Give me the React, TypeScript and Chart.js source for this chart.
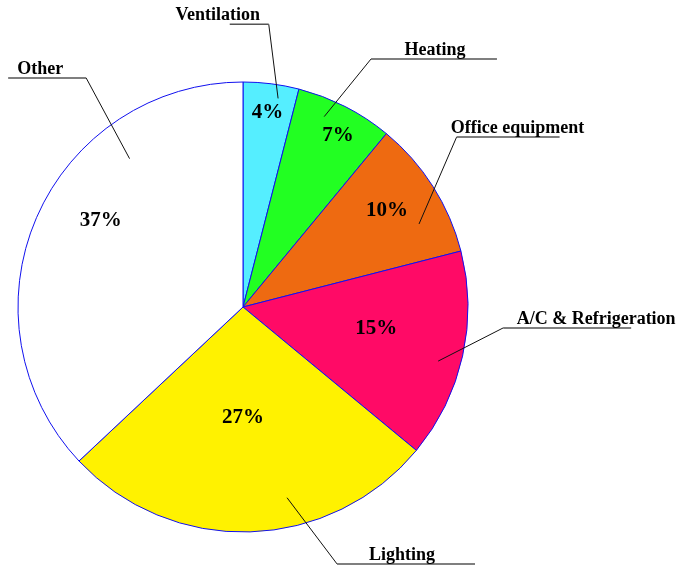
import React, { useEffect, useRef } from "react";
import { Chart, registerables } from "chart.js";

Chart.register(...registerables);

const categories = ["Ventilation", "Heating", "Office equipment", "A/C & Refrigeration", "Lighting", "Other"];
const shares = [4, 7, 10, 15, 27, 37];
const sliceColors = ["#55EEFF", "#22FF22", "#EE6A11", "#FF0A66", "#FFF200", "#FFFFFF"];

// label placement relative to each arc (angle offsets in degrees from slice mid-angle, radii as fraction of outer radius)
const pctPlace = [
  { da: 0, r: 0.87 },
  { da: 2, r: 0.87 },
  { da: -1.4, r: 0.77 },
  { da: -3.6, r: 0.6 },
  { da: 1.8, r: 0.49 },
  { da: 7.9, r: 0.74 },
];
const leaderPlace = [
  { da0: 2.35, r0: 0.94, da1: -2.0, r1: 1.262, ul: -39, tx: -51 },
  { da0: -3.9, r0: 0.92, da1: 0.3, r1: 1.24, ul: 126, tx: 64 },
  { da0: 7.15, r0: 0.865, da1: -6.1, r1: 1.213, ul: 103, tx: 61 },
  { da0: 2.9, r0: 0.9, da1: -8.0, r1: 1.16, ul: 128, tx: 93 },
  { da0: -11.2, r0: 0.87, da1: -18.3, r1: 1.216, ul: 138, tx: 65 },
  { da0: 29.2, r0: 0.83, da1: 32.2, r1: 1.234, ul: -78, tx: -46 },
];

const FONT = '"Liberation Serif", "Times New Roman", serif';

const labelPlugin = {
  id: "pieLabels",
  afterDraw(chart: any) {
    const ctx = chart.ctx;
    const meta = chart.getDatasetMeta(0);
    const deg = Math.PI / 180;
    meta.data.forEach((arc: any, i: number) => {
      const p = arc.getProps(["x", "y", "startAngle", "endAngle", "outerRadius"], true);
      const mid = (p.startAngle + p.endAngle) / 2;
      const R = p.outerRadius;
      const pt = (a: number, r: number) => ({ x: p.x + Math.cos(a) * r * R, y: p.y + Math.sin(a) * r * R });

      // percentage
      const pp = pctPlace[i];
      const pc = pt(mid + pp.da * deg, pp.r);
      ctx.save();
      ctx.fillStyle = "#000";
      ctx.font = `bold 21px ${FONT}`;
      ctx.textAlign = "center";
      ctx.textBaseline = "middle";
      ctx.fillText(`${shares[i]}%`, pc.x, pc.y);

      // leader
      const lp = leaderPlace[i];
      const a = pt(mid + lp.da0 * deg, lp.r0);
      const b = pt(mid + lp.da1 * deg, lp.r1);
      ctx.strokeStyle = "#111";
      ctx.lineWidth = 1;
      ctx.beginPath();
      ctx.moveTo(a.x, a.y);
      ctx.lineTo(b.x, b.y);
      ctx.stroke();
      ctx.strokeStyle = "#555";
      ctx.lineWidth = 1.5;
      ctx.beginPath();
      ctx.moveTo(b.x, b.y);
      ctx.lineTo(b.x + lp.ul, b.y);
      ctx.stroke();

      ctx.font = `bold 18px ${FONT}`;
      ctx.textBaseline = "alphabetic";
      ctx.fillText(categories[i], b.x + lp.tx, b.y - 4);
      ctx.restore();
    });
  },
};

export default function App() {
  const ref = useRef<HTMLCanvasElement | null>(null);
  useEffect(() => {
    if (!ref.current) return;
    const chart = new Chart(ref.current, {
      type: "pie",
      data: {
        labels: categories,
        datasets: [
          {
            data: shares,
            backgroundColor: sliceColors,
            borderColor: "#1010EE",
            borderWidth: 1,
            radius: 225,
          } as any,
        ],
      },
      options: {
        responsive: false,
        animation: false,
        layout: { padding: { left: 18, top: 82, right: 212, bottom: 35 } },
        plugins: { legend: { display: false }, tooltip: { enabled: false } },
      },
      plugins: [labelPlugin],
    });
    return () => chart.destroy();
  }, []);
  return (
    <div style={{ position: "fixed", left: 0, top: 0, width: 680, height: 567, background: "#fff" }}>
      <canvas ref={ref} width={680} height={567} />
    </div>
  );
}
